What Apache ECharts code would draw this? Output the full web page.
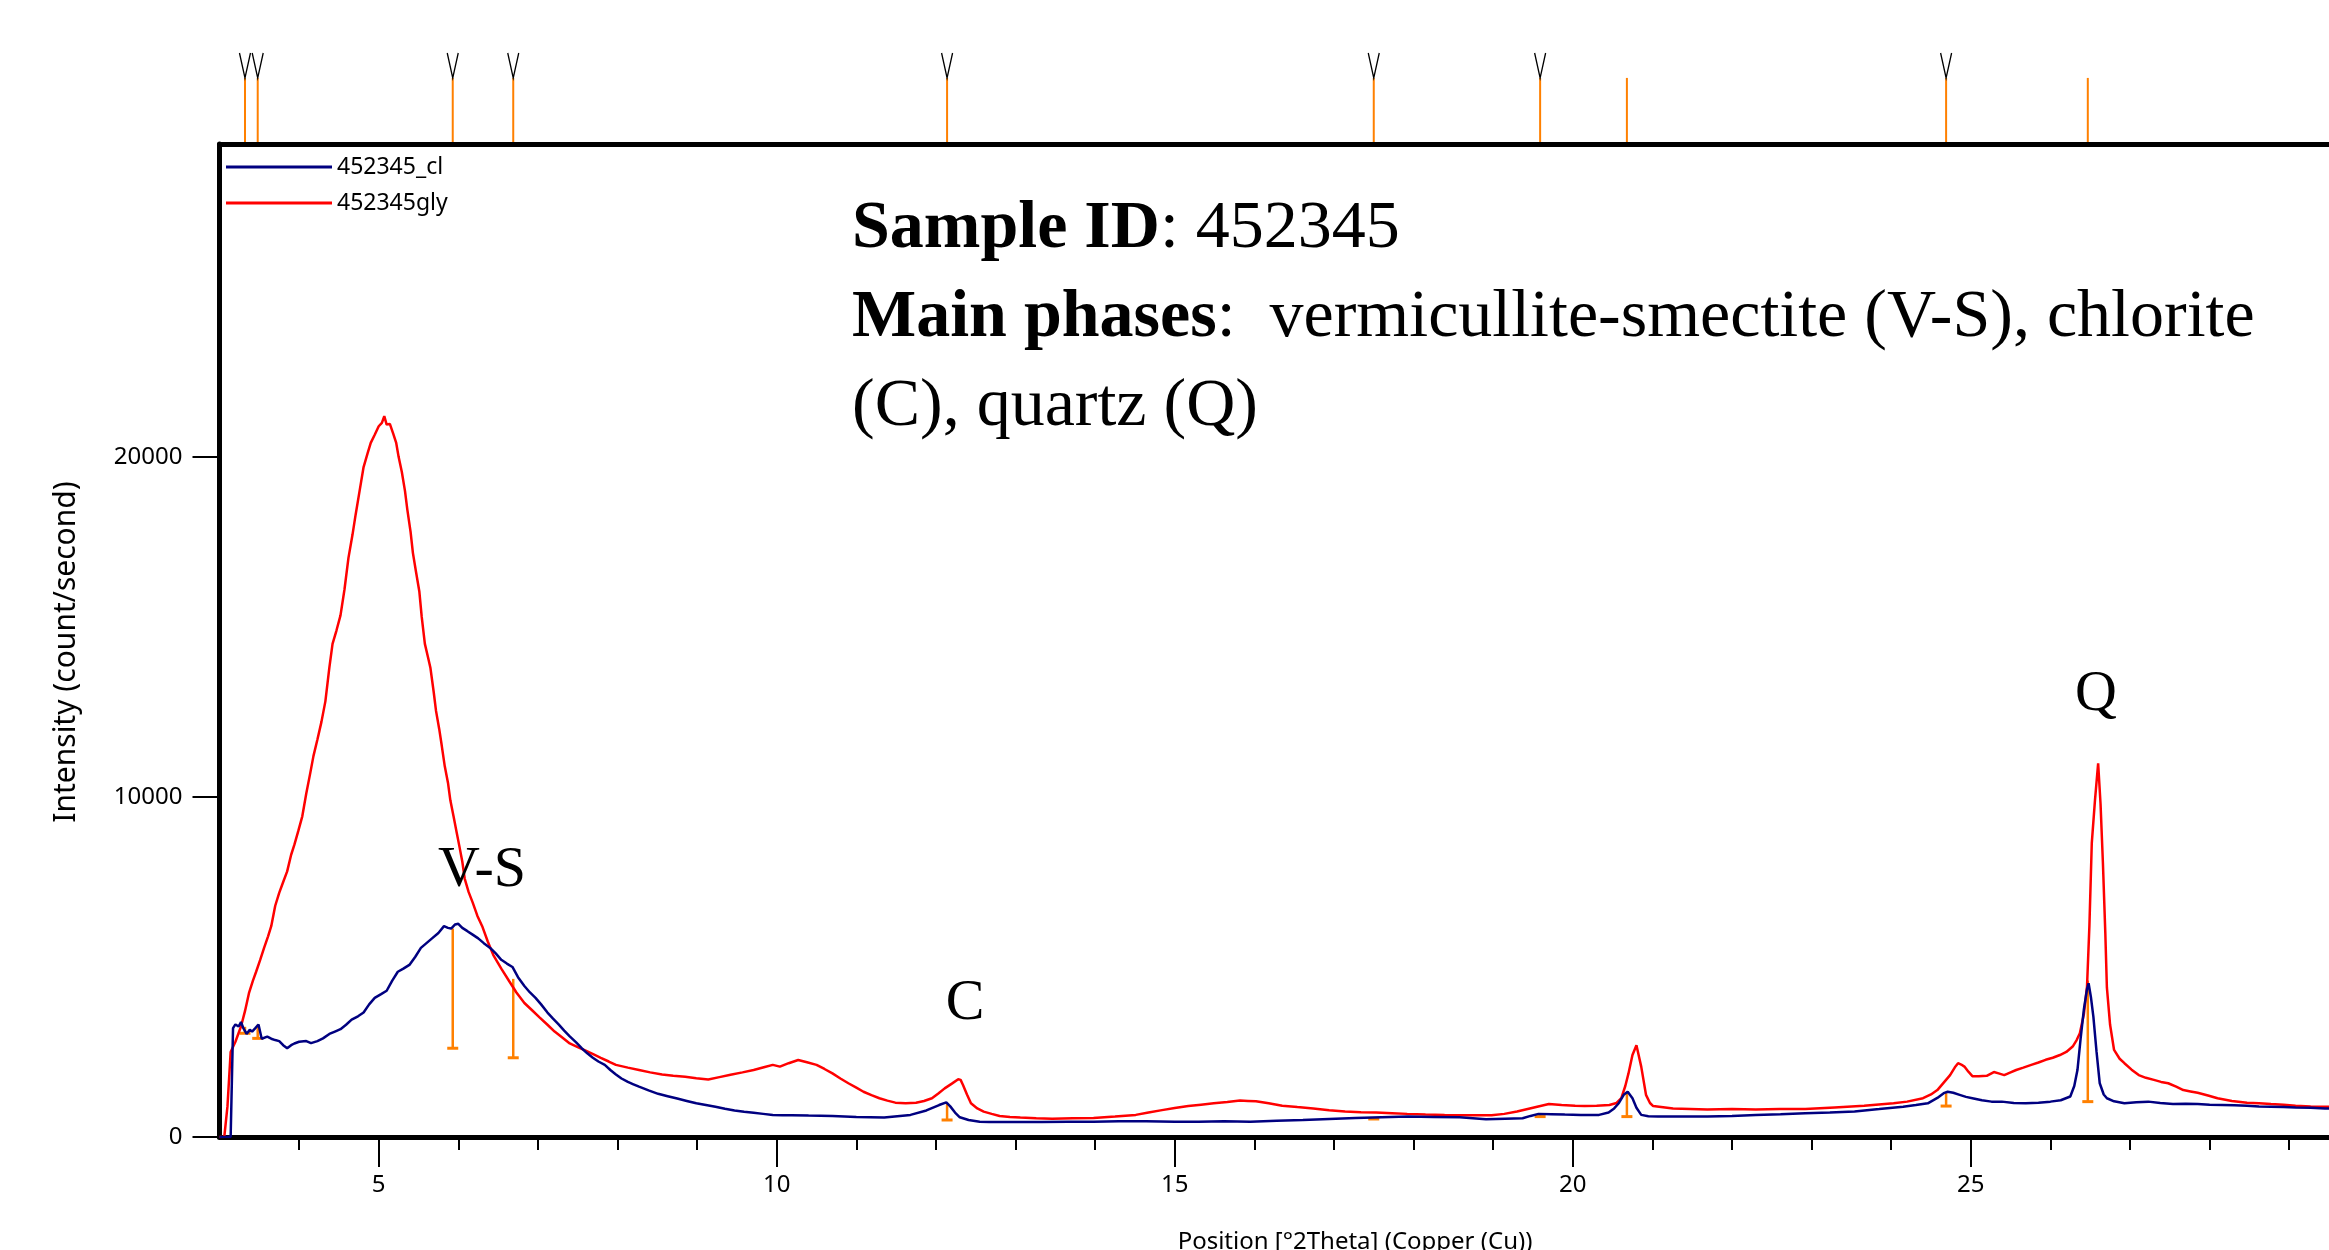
<!DOCTYPE html>
<html><head><meta charset="utf-8">
<script src="https://cdn.jsdelivr.net/npm/echarts@6/dist/echarts.min.js"></script>
<style>html,body{margin:0;padding:0;background:#fff}#c{width:2329px;height:1250px}</style>
</head><body><div id="c"></div>
<script>
// ---- data (2Theta, intensity counts/s) ----
const seriesNames = ['452345_cl', '452345gly'];
const clData = [
[3.00,0],[3.14,0],[3.17,3200],[3.20,3310],[3.24,3250],[3.27,3380],[3.30,3200],[3.34,3030],[3.38,3150],[3.41,3100],
[3.45,3200],[3.49,3310],[3.53,2890],[3.60,2950],[3.65,2890],[3.70,2850],[3.75,2820],[3.80,2700],[3.85,2610],[3.90,2700],
[3.94,2750],[4.00,2800],[4.09,2820],[4.15,2760],[4.23,2820],[4.30,2900],[4.38,3030],[4.45,3100],[4.52,3170],[4.59,3300],
[4.66,3450],[4.74,3550],[4.81,3660],[4.88,3900],[4.95,4090],[5.03,4200],[5.10,4300],[5.17,4600],[5.24,4860],[5.31,4950],
[5.39,5070],[5.46,5300],[5.53,5560],[5.60,5700],[5.67,5840],[5.75,6000],[5.82,6200],[5.87,6150],[5.91,6130],[5.96,6250],
[6.00,6270],[6.05,6150],[6.11,6060],[6.18,5950],[6.25,5840],[6.32,5700],[6.40,5560],[6.47,5400],[6.54,5210],[6.61,5100],
[6.68,5000],[6.75,4700],[6.83,4440],[6.90,4250],[6.97,4090],[7.04,3900],[7.12,3660],[7.19,3480],[7.26,3310],[7.33,3130],
[7.40,2960],[7.48,2780],[7.55,2610],[7.62,2460],[7.69,2330],[7.76,2220],[7.84,2120],[7.91,1970],[7.98,1840],[8.05,1720],
[8.13,1620],[8.20,1550],[8.27,1480],[8.39,1370],[8.51,1270],[8.63,1200],[8.75,1130],[8.87,1060],[8.99,990],[9.11,940],
[9.23,890],[9.35,830],[9.47,780],[9.59,740],[9.71,710],[9.83,680],[9.95,650],[10.07,640],[10.19,640],[10.40,630],
[10.70,620],[11.00,590],[11.35,570],[11.68,650],[11.88,780],[12.04,940],[12.13,1020],[12.18,900],[12.24,720],[12.30,580],
[12.41,500],[12.55,450],[12.67,440],[13.00,440],[13.33,440],[13.66,450],[13.98,450],[14.30,460],[14.64,460],[15.00,450],
[15.30,450],[15.62,460],[15.95,450],[16.28,480],[16.61,500],[16.94,530],[17.27,560],[17.60,580],[17.93,600],[18.25,590],
[18.58,580],[18.91,520],[19.15,540],[19.37,550],[19.47,620],[19.57,680],[19.73,670],[19.90,660],[20.10,650],[20.33,650],
[20.45,720],[20.52,840],[20.58,1000],[20.64,1240],[20.69,1330],[20.75,1140],[20.80,860],[20.86,650],[20.95,610],[21.07,600],
[21.40,600],[21.69,600],[22.00,620],[22.30,650],[22.61,670],[22.92,700],[23.23,720],[23.54,750],[23.85,820],[24.15,890],
[24.31,940],[24.46,990],[24.58,1150],[24.66,1290],[24.71,1330],[24.78,1300],[24.86,1240],[24.94,1180],[25.02,1140],[25.14,1080],
[25.26,1040],[25.39,1040],[25.54,1000],[25.69,990],[25.85,1010],[26.00,1040],[26.13,1080],[26.25,1190],[26.30,1500],[26.34,1970],
[26.38,2900],[26.42,3740],[26.46,4350],[26.48,4520],[26.51,4100],[26.54,3540],[26.58,2500],[26.62,1580],[26.67,1250],[26.71,1140],
[26.80,1050],[26.93,990],[27.08,1020],[27.23,1040],[27.38,1000],[27.54,970],[27.70,980],[27.85,970],[28.00,950],[28.16,940],
[28.31,930],[28.47,920],[28.62,900],[28.77,890],[28.93,880],[29.08,870],[29.27,860],[29.45,840],[29.70,830]
];
const glyData = [
[3.00,0],[3.06,0],[3.10,900],[3.14,2500],[3.20,2800],[3.27,3250],[3.32,3700],[3.37,4230],[3.42,4600],[3.46,4860],
[3.51,5200],[3.56,5560],[3.61,5900],[3.65,6200],[3.70,6800],[3.75,7180],[3.80,7500],[3.85,7810],[3.90,8300],[3.94,8590],
[3.99,9000],[4.04,9430],[4.09,10100],[4.14,10700],[4.18,11200],[4.23,11690],[4.28,12200],[4.33,12810],[4.38,13800],[4.42,14500],
[4.47,14900],[4.52,15340],[4.57,16100],[4.62,17030],[4.67,17700],[4.71,18300],[4.76,19000],[4.81,19700],[4.86,20100],[4.90,20410],
[4.95,20650],[5.00,20900],[5.04,21000],[5.07,21200],[5.10,20950],[5.14,20970],[5.18,20700],[5.22,20410],[5.25,20000],[5.29,19560],
[5.33,19000],[5.36,18440],[5.40,17800],[5.43,17170],[5.47,16600],[5.51,16050],[5.54,15300],[5.58,14500],[5.62,14100],[5.65,13790],
[5.69,13100],[5.72,12530],[5.76,12000],[5.79,11540],[5.83,10900],[5.87,10420],[5.90,9900],[5.94,9430],[5.98,8950],[6.01,8590],
[6.05,8100],[6.08,7600],[6.13,7200],[6.18,6900],[6.24,6500],[6.30,6200],[6.37,5750],[6.44,5350],[6.54,4950],[6.64,4580],
[6.73,4250],[6.83,3940],[6.93,3720],[7.02,3520],[7.12,3300],[7.21,3100],[7.31,2920],[7.40,2750],[7.50,2640],[7.60,2540],
[7.70,2430],[7.79,2330],[7.89,2220],[7.98,2120],[8.13,2040],[8.27,1970],[8.41,1900],[8.56,1840],[8.70,1800],[8.85,1770],
[8.99,1730],[9.14,1690],[9.28,1760],[9.42,1830],[9.57,1900],[9.71,1970],[9.85,2060],[9.95,2120],[10.04,2070],[10.15,2170],
[10.27,2265],[10.38,2200],[10.50,2120],[10.60,2000],[10.70,1870],[10.80,1720],[10.90,1580],[11.00,1450],[11.09,1330],[11.19,1230],
[11.29,1140],[11.39,1070],[11.49,1010],[11.62,990],[11.75,1010],[11.85,1060],[11.95,1140],[12.03,1280],[12.11,1430],[12.20,1570],
[12.28,1700],[12.31,1680],[12.34,1530],[12.39,1250],[12.44,990],[12.52,840],[12.60,745],[12.70,680],[12.80,620],[12.93,590],
[13.06,570],[13.26,550],[13.46,540],[13.72,550],[13.98,560],[14.25,600],[14.51,650],[14.67,720],[14.84,790],[15.00,850],
[15.17,910],[15.33,950],[15.49,990],[15.66,1030],[15.82,1070],[15.92,1060],[16.02,1050],[16.18,990],[16.35,920],[16.54,880],
[16.74,840],[16.94,790],[17.14,750],[17.34,730],[17.53,720],[17.73,700],[17.92,680],[18.15,660],[18.39,650],[18.68,640],
[18.98,640],[19.14,680],[19.30,750],[19.50,860],[19.70,970],[19.86,940],[20.03,920],[20.15,910],[20.30,920],[20.46,940],
[20.55,1000],[20.61,1140],[20.66,1500],[20.70,1870],[20.75,2410],[20.80,2700],[20.86,2070],[20.92,1240],[20.97,1000],[21.01,910],
[21.26,840],[21.69,810],[22.00,820],[22.30,810],[22.60,820],[22.92,820],[23.29,870],[23.66,920],[24.03,990],[24.20,1040],
[24.40,1140],[24.50,1250],[24.58,1380],[24.66,1600],[24.74,1820],[24.80,2050],[24.84,2170],[24.88,2130],[24.92,2070],[24.97,1920],
[25.02,1790],[25.10,1790],[25.20,1800],[25.29,1910],[25.35,1870],[25.42,1820],[25.50,1900],[25.57,1970],[25.66,2040],[25.76,2120],
[25.85,2190],[25.94,2270],[26.03,2330],[26.12,2410],[26.20,2500],[26.28,2660],[26.33,2850],[26.37,3050],[26.42,3600],[26.46,4420],
[26.49,6200],[26.52,8640],[26.56,9900],[26.60,10990],[26.63,9800],[26.66,8050],[26.69,6000],[26.71,4390],[26.75,3300],[26.80,2560],
[26.87,2300],[26.93,2170],[27.02,1980],[27.11,1820],[27.20,1740],[27.30,1680],[27.39,1620],[27.48,1580],[27.58,1480],[27.67,1380],
[27.76,1340],[27.85,1300],[27.98,1220],[28.10,1140],[28.28,1060],[28.47,1010],[28.62,990],[28.77,970],[28.93,950],[29.08,920],
[29.27,900],[29.45,890],[29.70,880]
];
// peak list sticks inside the plot
const peakPos  = [3.32, 3.48, 5.93, 6.69, 12.14, 17.50, 19.59, 20.68, 24.69, 26.47];
const peakTop  = [3240, 3300, 6130, 4650, 1000,  580,   680,   1330,  1290,  4600];
const peakBase = [3050, 2900, 2610, 2330, 500,   530,   600,   600,   910,   1040];
// reference pattern sticks above the plot (1 = marked with V)
const refPos    = [3.32, 3.48, 5.93, 6.69, 12.14, 17.50, 19.59, 20.68, 24.69, 26.47];
const refMarked = [1, 1, 1, 1, 1, 1, 1, 0, 1, 0];
// axis ticks
const xMajorTicks = [5, 10, 15, 20, 25];
const xMinorTicks = [4, 6, 7, 8, 9, 11, 12, 13, 14, 16, 17, 18, 19, 21, 22, 23, 24, 26, 27, 28, 29];
const yTicks = [0, 10000, 20000];
const peakLabels = ['V-S', 'C', 'Q'];

const X_MIN = 3, X_MAX = 29.5, Y_MAX = 29200;
const ORANGE = '#ff8000';

function renderPeak(params, api) {
  const x = api.value(0), top = api.value(1), base = api.value(2);
  const pt = api.coord([x, top]), pb = api.coord([x, base]);
  return {type: 'group', children: [
    {type: 'line', shape: {x1: pb[0], y1: pb[1], x2: pt[0], y2: pt[1]}, style: {stroke: ORANGE, lineWidth: 2.5}},
    {type: 'line', shape: {x1: pb[0] - 5.5, y1: pb[1], x2: pb[0] + 5.5, y2: pb[1]}, style: {stroke: ORANGE, lineWidth: 3}}
  ]};
}
function renderRef(params, api) {
  const x = api.value(0), mark = api.value(1);
  const p0 = api.coord([x, 0]), p1 = api.coord([x, 0.72]), p2 = api.coord([x, 1]);
  const ch = [{type: 'line', shape: {x1: p0[0], y1: p0[1], x2: p1[0], y2: p1[1]}, style: {stroke: ORANGE, lineWidth: 2}}];
  if (mark) ch.push({type: 'polyline', shape: {points: [[p1[0] - 5.5, p2[1]], [p1[0], p1[1]], [p1[0] + 5.5, p2[1]]]},
    style: {stroke: '#000', lineWidth: 1.3, fill: null}});
  return {type: 'group', children: ch};
}

const chart = echarts.init(document.getElementById('c'), null, {renderer: 'canvas'});
const axisFont = 'Noto Sans';
const serif = 'Liberation Serif';
chart.setOption({
  animation: false,
  backgroundColor: '#fff',
  grid: [
    {left: 219.5, right: 0, top: 144, bottom: 113, show: false, outerBoundsMode: 'none', containLabel: false},
    {left: 219.5, right: 0, top: 53, height: 89, show: false, outerBoundsMode: 'none', containLabel: false}
  ],
  legend: {
    data: seriesNames, orient: 'vertical', left: 221, top: 150,
    itemWidth: 106, itemHeight: 3, itemGap: 12, icon: 'rect',
    textStyle: {fontSize: 23, fontFamily: axisFont, color: '#000', lineHeight: 24}
  },
  xAxis: [
    {gridIndex: 0, type: 'value', min: X_MIN, max: X_MAX, position: 'bottom',
     axisLine: {show: true, onZero: false, lineStyle: {color: '#000', width: 5}},
     axisTick: {show: true, customValues: xMajorTicks, length: 30, lineStyle: {color: '#000', width: 2}},
     axisLabel: {customValues: xMajorTicks, margin: 36, fontSize: 24, fontFamily: axisFont, color: '#000'},
     splitLine: {show: false}},
    {gridIndex: 0, type: 'value', min: X_MIN, max: X_MAX, position: 'bottom',
     axisLine: {show: false},
     axisTick: {show: true, customValues: xMinorTicks, length: 13, lineStyle: {color: '#000', width: 2}},
     axisLabel: {show: false}, splitLine: {show: false}},
    {gridIndex: 0, type: 'value', min: X_MIN, max: X_MAX, position: 'top',
     axisLine: {show: true, onZero: false, lineStyle: {color: '#000', width: 5}},
     axisTick: {show: false}, axisLabel: {show: false}, splitLine: {show: false}},
    {gridIndex: 1, type: 'value', min: X_MIN, max: X_MAX, show: false}
  ],
  yAxis: [
    {gridIndex: 0, type: 'value', min: 0, max: Y_MAX,
     axisLine: {show: true, onZero: false, lineStyle: {color: '#000', width: 5}},
     axisTick: {show: true, customValues: yTicks, length: 27, lineStyle: {color: '#000', width: 2}},
     axisLabel: {customValues: yTicks, margin: 37, fontSize: 24, fontFamily: axisFont, color: '#000',
                 formatter: v => String(v)},
     splitLine: {show: false}},
    {gridIndex: 1, type: 'value', min: 0, max: 1, show: false}
  ],
  series: [
    {name: 'peaks', type: 'custom', xAxisIndex: 0, yAxisIndex: 0, z: 1, silent: true,
     renderItem: renderPeak, encode: {x: 0, y: [1, 2]},
     data: peakPos.map((p, i) => [p, peakTop[i], peakBase[i]])},
    {name: 'refs', type: 'custom', xAxisIndex: 3, yAxisIndex: 1, z: 1, silent: true,
     renderItem: renderRef, encode: {x: 0, y: 1},
     data: refPos.map((p, i) => [p, refMarked[i]])},
    {name: seriesNames[1], type: 'line', xAxisIndex: 0, yAxisIndex: 0, z: 2, data: glyData,
     showSymbol: false, symbol: 'none', color: '#ff0000', lineStyle: {color: '#ff0000', width: 2.5}},
    {name: seriesNames[0], type: 'line', xAxisIndex: 0, yAxisIndex: 0, z: 3, data: clData,
     showSymbol: false, symbol: 'none', color: '#000080', lineStyle: {color: '#000080', width: 2.5}}
  ],
  graphic: [
    {type: 'text', x: 852, y: 229, z: 10, style: {text: '{b|Sample ID}: 452345', rich: {b: {fontWeight: 'bold', fontSize: 68, fontFamily: serif, fill: '#000'}},
      fontSize: 68, fontFamily: serif, fill: '#000', align: 'left', verticalAlign: 'middle'}},
    {type: 'text', x: 852, y: 318, z: 10, style: {text: '{b|Main phases}:  vermicullite-smectite (V-S), chlorite', rich: {b: {fontWeight: 'bold', fontSize: 68, fontFamily: serif, fill: '#000'}},
      fontSize: 68, fontFamily: serif, fill: '#000', align: 'left', verticalAlign: 'middle'}},
    {type: 'text', x: 852, y: 407, z: 10, style: {text: '(C), quartz (Q)', fontSize: 68, fontFamily: serif, fill: '#000', align: 'left', verticalAlign: 'middle'}},
    {type: 'text', x: 482, y: 871, z: 10, style: {text: peakLabels[0], fontSize: 58, fontFamily: serif, fill: '#000', align: 'center', verticalAlign: 'middle'}},
    {type: 'text', x: 965, y: 1004, z: 10, style: {text: peakLabels[1], fontSize: 58, fontFamily: serif, fill: '#000', align: 'center', verticalAlign: 'middle'}},
    {type: 'text', x: 2096, y: 695, z: 10, style: {text: peakLabels[2], fontSize: 58, fontFamily: serif, fill: '#000', align: 'center', verticalAlign: 'middle'}},
    {type: 'text', x: 1355, y: 1230, z: 10, style: {text: 'Position [°2Theta] (Copper (Cu))', fontSize: 24, fontFamily: axisFont, fill: '#000', align: 'center', verticalAlign: 'top'}},
    {type: 'text', x: 66, y: 652, rotation: Math.PI / 2, z: 10, style: {text: 'Intensity (count/second)', fontSize: 30, fontFamily: axisFont, fill: '#000', align: 'center', verticalAlign: 'middle'}}
  ]
});
</script>
</body></html>
